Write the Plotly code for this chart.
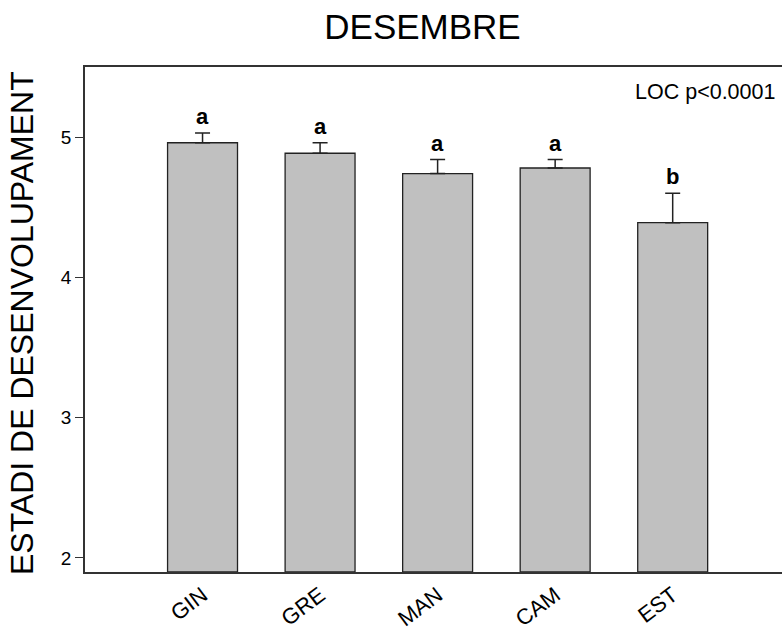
import plotly.graph_objects as go

categories = ["GIN", "GRE", "MAN", "CAM", "EST"]
means = [4.96, 4.885, 4.74, 4.78, 4.39]
errors = [0.07, 0.075, 0.10, 0.06, 0.21]
letters = ["a", "a", "a", "a", "b"]
y_ticks = [2, 3, 4, 5]

xpos = list(range(len(categories)))
FONT = "Liberation Sans, Arial"

fig = go.Figure()
fig.add_trace(go.Bar(
    x=xpos, y=[m - 1.9 for m in means], base=1.9,
    width=0.595,
    marker=dict(color="#c0c0c0", line=dict(color="#222222", width=1.3)),
    error_y=dict(type="data", symmetric=False, array=errors,
                 arrayminus=[0] * len(errors), color="#222222",
                 thickness=1.5, width=7.5),
    showlegend=False, hoverinfo="skip",
))

for x, m, e, t in zip(xpos, means, errors, letters):
    fig.add_annotation(x=x, y=m + e, text=f"<b>{t}</b>", showarrow=False,
                       xref="x", yref="y", yanchor="bottom", yshift=2,
                       font=dict(family=FONT, size=22, color="black"))

fig.add_annotation(x=0.9928, y=0.951, xref="paper", yref="paper",
                   text="LOC p<0.0001", showarrow=False, xanchor="right", yanchor="middle",
                   font=dict(family=FONT, size=21.5, color="black"))

fig.add_annotation(x=-0.0904, y=0.493, xref="paper", yref="paper",
                   text="ESTADI DE DESENVOLUPAMENT", showarrow=False, textangle=-90,
                   xanchor="center", yanchor="middle",
                   font=dict(family=FONT, size=32, color="black"))

fig.update_layout(
    width=782, height=631,
    margin=dict(l=85, r=0, t=67, b=57),
    paper_bgcolor="white", plot_bgcolor="white",
    font=dict(family=FONT, color="black"),
    title=dict(text="DESEMBRE", x=422.5 / 782, xanchor="center", xref="container",
               y=1 - 39 / 631, yref="container", yanchor="bottom",
               font=dict(family=FONT, size=35, color="black")),
    xaxis=dict(range=[-1, 4.93], tickvals=xpos, ticktext=categories, tickangle=-37,
               showline=True, linecolor="#333333", linewidth=1.5, mirror=True,
               ticks="", showgrid=False, zeroline=False,
               tickfont=dict(size=22, color="black")),
    yaxis=dict(range=[1.9, 5.5], tickvals=y_ticks, showline=True, linecolor="#333333",
               linewidth=1.5, ticks="outside", ticklen=8, tickwidth=1.3, tickcolor="#333333",
               showgrid=False, zeroline=False, mirror=False,
               tickfont=dict(size=19, color="black")),
)

fig.write_html("out.html", config={"displayModeBar": False},
               post_script="document.body.style.margin='0';document.body.style.overflow='hidden';")
